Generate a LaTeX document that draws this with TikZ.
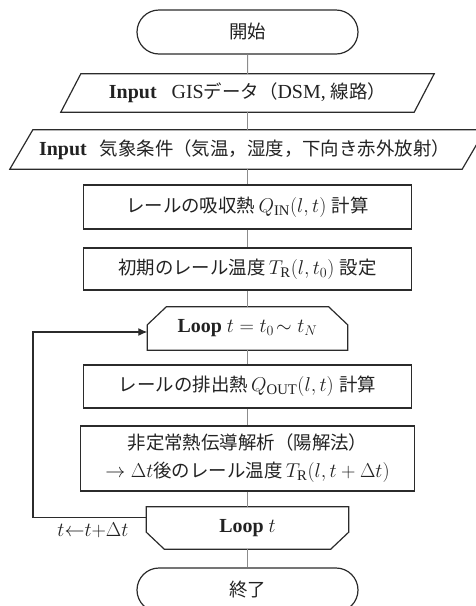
\documentclass[tikz,border=0pt]{standalone}
\usepackage{fix-cm}
\usepackage{fontspec}
\setmainfont{Liberation Serif}[Scale=1.05]
\newfontfamily\jp{Noto Sans CJK JP}[Scale=0.97]
\DeclareMathSizes{19}{20}{14}{11}
\usetikzlibrary{shapes.misc,arrows.meta,calc}
\definecolor{edge}{HTML}{2B2B2B}
\definecolor{conn}{HTML}{8C8C8C}
\definecolor{ink}{HTML}{222222}
\tikzset{
  base/.style={inner sep=0pt, text=ink, font=\fontsize{19}{28}\selectfont, align=center},
  term/.style={base, rounded rectangle, draw=edge, line width=1.2pt, minimum width=221pt, minimum height=44pt},
  procbox/.style={base, rectangle, draw=edge, line width=1.2pt},
  ghost/.style={base, rectangle, draw=none},
  outline/.style={draw=edge, line width=1.2pt, line join=miter},
  connline/.style={draw=conn, line width=1pt},
  backline/.style={draw=edge, line width=1.2pt, -{Latex[length=9pt,width=8pt]}}
}
\begin{document}
\begin{tikzpicture}[x=1pt,y=-1pt]
\useasboundingbox (0,0) rectangle (475,606);
% nodes
\node[term] (start) at (247.5,32) {{\jp 開始}};
\node[ghost, minimum width=373pt, minimum height=38pt] (gis) at (247.5,93) {\textbf{Input}\hspace{15pt}GIS{\jp データ（}DSM, {\jp 線路）}};
\node[ghost, minimum width=475pt, minimum height=39pt] (met) at (247.5,149.5) {\textbf{Input}\hspace{13pt}{\jp 気象条件（気温，湿度，下向き赤外放射）}\hspace{6pt}};
\node[procbox, minimum width=328pt, minimum height=44pt] (qin) at (247.5,207) {{\jp レールの吸収熱}\,$Q_{\mathrm{IN}}(l,t)$\;{\jp 計算}};
\node[procbox, minimum width=328pt, minimum height=42pt] (tinit) at (247.5,269) {{\jp 初期のレール温度}\,$T_{\mathrm{R}}(l,t_0)$\;{\jp 設定}};
\node[ghost, minimum width=200pt, minimum height=43pt] (ls) at (247.5,328.5) {\textbf{Loop} $t=t_0\!\sim t_N$};
\node[procbox, minimum width=328pt, minimum height=43pt] (qout) at (247.5,386.5) {{\jp レールの排出熱}\,$Q_{\mathrm{OUT}}(l,t)$\;{\jp 計算}};
\node[procbox, minimum width=334pt, minimum height=65pt] (heat) at (247.5,458.5) {{\jp 非定常熱伝導解析（陽解法）}\\$\rightarrow\Delta t${\jp 後のレール温度}\,$T_{\mathrm{R}}(l,t+\Delta t)$};
\node[ghost, minimum width=202pt, minimum height=42pt] (le) at (247.5,528) {\textbf{Loop} $t$};
\node[term] (stop) at (247.5,590) {{\jp 終了}};
\node[base] (inc) at (93,530) {$t{\leftarrow}t{+}\Delta t$};
% outlines of parallelograms and loop shapes
\draw[outline] ($(gis.north west)+(20,0)$) -- (gis.north east) -- ($(gis.south east)+(-20,0)$) -- (gis.south west) -- cycle;
\draw[outline] ($(met.north west)+(23,0)$) -- (met.north east) -- ($(met.south east)+(-23,0)$) -- (met.south west) -- cycle;
\draw[outline] ($(ls.north west)+(0,18)$) -- ($(ls.north west)+(19,0)$) -- ($(ls.north east)+(-19,0)$) -- ($(ls.north east)+(0,18)$) -- (ls.south east) -- (ls.south west) -- cycle;
\draw[outline] (le.north west) -- (le.north east) -- ($(le.south east)+(0,-17)$) -- ($(le.south east)+(-18,0)$) -- ($(le.south west)+(18,0)$) -- ($(le.south west)+(0,-17)$) -- cycle;
% connectors
\draw[connline] (start) -- (gis);
\draw[connline] (gis) -- (met);
\draw[connline] (met) -- (qin);
\draw[connline] (qin) -- (tinit);
\draw[connline] (tinit) -- (ls);
\draw[connline] (ls) -- (qout);
\draw[connline] (qout) -- (heat);
\draw[connline] (heat) -- (le);
\draw[connline] (le) -- (stop);
% loop back
\coordinate (lb1) at (33,517.5);
\coordinate (lb2) at (33,332);
\draw[backline] (le.west |- lb1) -- (lb1) -- (lb2) -- (lb2 -| ls.west);
\end{tikzpicture}
\end{document}
